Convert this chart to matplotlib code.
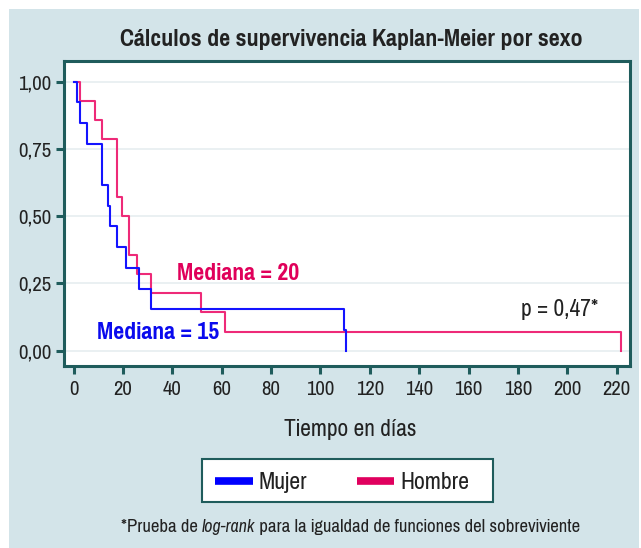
import matplotlib
matplotlib.use("Agg")
import matplotlib.pyplot as plt
from matplotlib.lines import Line2D
from matplotlib.patches import Rectangle

# Kaplan-Meier steps
mujer_t = [0, 1.3, 2.4, 5.4, 11.6, 13.9, 14.6, 17.6, 21.4, 26.5, 31.5, 109.6, 110.5]
mujer_s = [1.0, 0.923, 0.846, 0.769, 0.615, 0.538, 0.462, 0.385, 0.308, 0.231, 0.154, 0.077, 0.0]
hombre_t = [0, 2.4, 8.8, 11.5, 17.6, 19.6, 22.4, 25.7, 31.5, 51.8, 61.5, 221.6]
hombre_s = [1.0, 0.929, 0.857, 0.786, 0.571, 0.5, 0.357, 0.286, 0.214, 0.143, 0.071, 0.0]

series = ["Mujer", "Hombre"]
xticks = list(range(0, 221, 20))
yticks = [0, 0.25, 0.5, 0.75, 1.0]
ytick_labels = ["0,00", "0,25", "0,50", "0,75", "1,00"]

FONT = ["Pragati Narrow", "DejaVu Sans"]
plt.rcParams["font.family"] = FONT

BG = "#d3e4e9"
TEAL = "#1f5c5c"
BLUE = "#1414ff"
PINK = "#ee2a78"
TXT = "#222222"

W, H = 641, 548
fig = plt.figure(figsize=(W / 100, H / 100), dpi=100)
fig.patch.set_facecolor("white")
fig.patches.append(Rectangle((9 / W, 0), (639 - 9) / W, 1 - 9 / H,
                             transform=fig.transFigure, facecolor=BG,
                             edgecolor="none", zorder=-1))
renderer = fig.canvas.get_renderer()


def px(x, y):
    return x / W, 1 - y / H


def fit(t, width):
    # scale a text so it is as wide as in the reference
    w = t.get_window_extent(renderer).width
    t.set_fontsize(t.get_fontsize() * width / w)
    return t


def ftext(x, y, s, width=None, **kw):
    t = fig.text(*px(x, y), s, va="baseline", color=kw.pop("color", TXT), **kw)
    if width:
        fit(t, width)
    return t


# size of tick labels from the width of "1,00"
probe = fit(fig.text(0, 0, "1,00", fontsize=12), 33)
tick_fs = probe.get_fontsize()
probe.remove()

ax = fig.add_axes([64 / W, 1 - 366 / H, (630 - 64) / W, (366 - 61) / H])
ax.set_facecolor("white")

ax.step(mujer_t, mujer_s, where="post", color=BLUE, lw=1.5, zorder=3)
ax.step(hombre_t, hombre_s, where="post", color=PINK, lw=1.5, zorder=2)

ax.set_xlim(-3.9, 225.4)
ax.set_ylim(-0.057, 1.077)
ax.set_xticks(xticks)
ax.set_yticks(yticks)
ax.set_yticklabels(ytick_labels)
ax.grid(axis="y", color="#e6eef0", lw=1.2)
ax.set_axisbelow(True)
for s in ax.spines.values():
    s.set_color(TEAL)
    s.set_linewidth(2.2)
ax.tick_params(colors=TEAL, width=2.2, length=6, labelsize=tick_fs, labelcolor=TXT)
ax.tick_params(axis="y", pad=3)
ax.tick_params(axis="x", pad=4)

ftext(176.7, 280, "Mediana = 20", 121.6, color="#e0005a", fontweight="bold")
ftext(96.7, 339.3, "Mediana = 15", 121.6, color="#0a0aee", fontweight="bold")
ftext(520.7, 316, "p = 0,47*", 77.6)

ftext(120, 45.7, "Cálculos de supervivencia Kaplan-Meier por sexo", 463, fontweight="bold")
ftext(284, 436, "Tiempo en días", 133)

# legend box
fig.patches.append(Rectangle(px(201.7, 502.3), 291 / W, 43.3 / H, transform=fig.transFigure,
                             facecolor="white", edgecolor=TEAL, lw=1.5))
for (x0, x1, xt), name, c in zip([(215, 252.7, 258), (356.7, 394.3, 400.7)], series,
                                 ["#0000ff", "#e0005e"]):
    fig.lines.append(Line2D([x0 / W, x1 / W], [1 - 481 / H] * 2, transform=fig.transFigure,
                            color=c, lw=5.5, solid_capstyle="butt"))
    t = ftext(xt, 489, name)
    if name == "Mujer":
        fit(t, 48.7)
        leg_fs = t.get_fontsize()
    else:
        t.set_fontsize(leg_fs)

# footnote, with log-rank in italic (Archivo Narrow runs a bit larger)
parts = [("*Prueba de ", {}, 1.0),
         ("log-rank", {"family": ["Archivo Narrow"], "style": "italic"}, 0.88),
         (" para la igualdad de funciones del sobreviviente", {}, 1.0)]
x = 121
pieces = []
for s, kw, f in parts:
    t = ftext(x, 531.7, s, fontsize=13 * f, **kw)
    pieces.append(t)
    x += t.get_window_extent(renderer).width
# scale whole footnote to reference width
k = 459 / (x - 121)
x = 121
for t in pieces:
    t.set_fontsize(t.get_fontsize() * k)
    t.set_x(x / W)
    x += t.get_window_extent(renderer).width

fig.savefig("out.png", dpi=100, facecolor=fig.get_facecolor())
